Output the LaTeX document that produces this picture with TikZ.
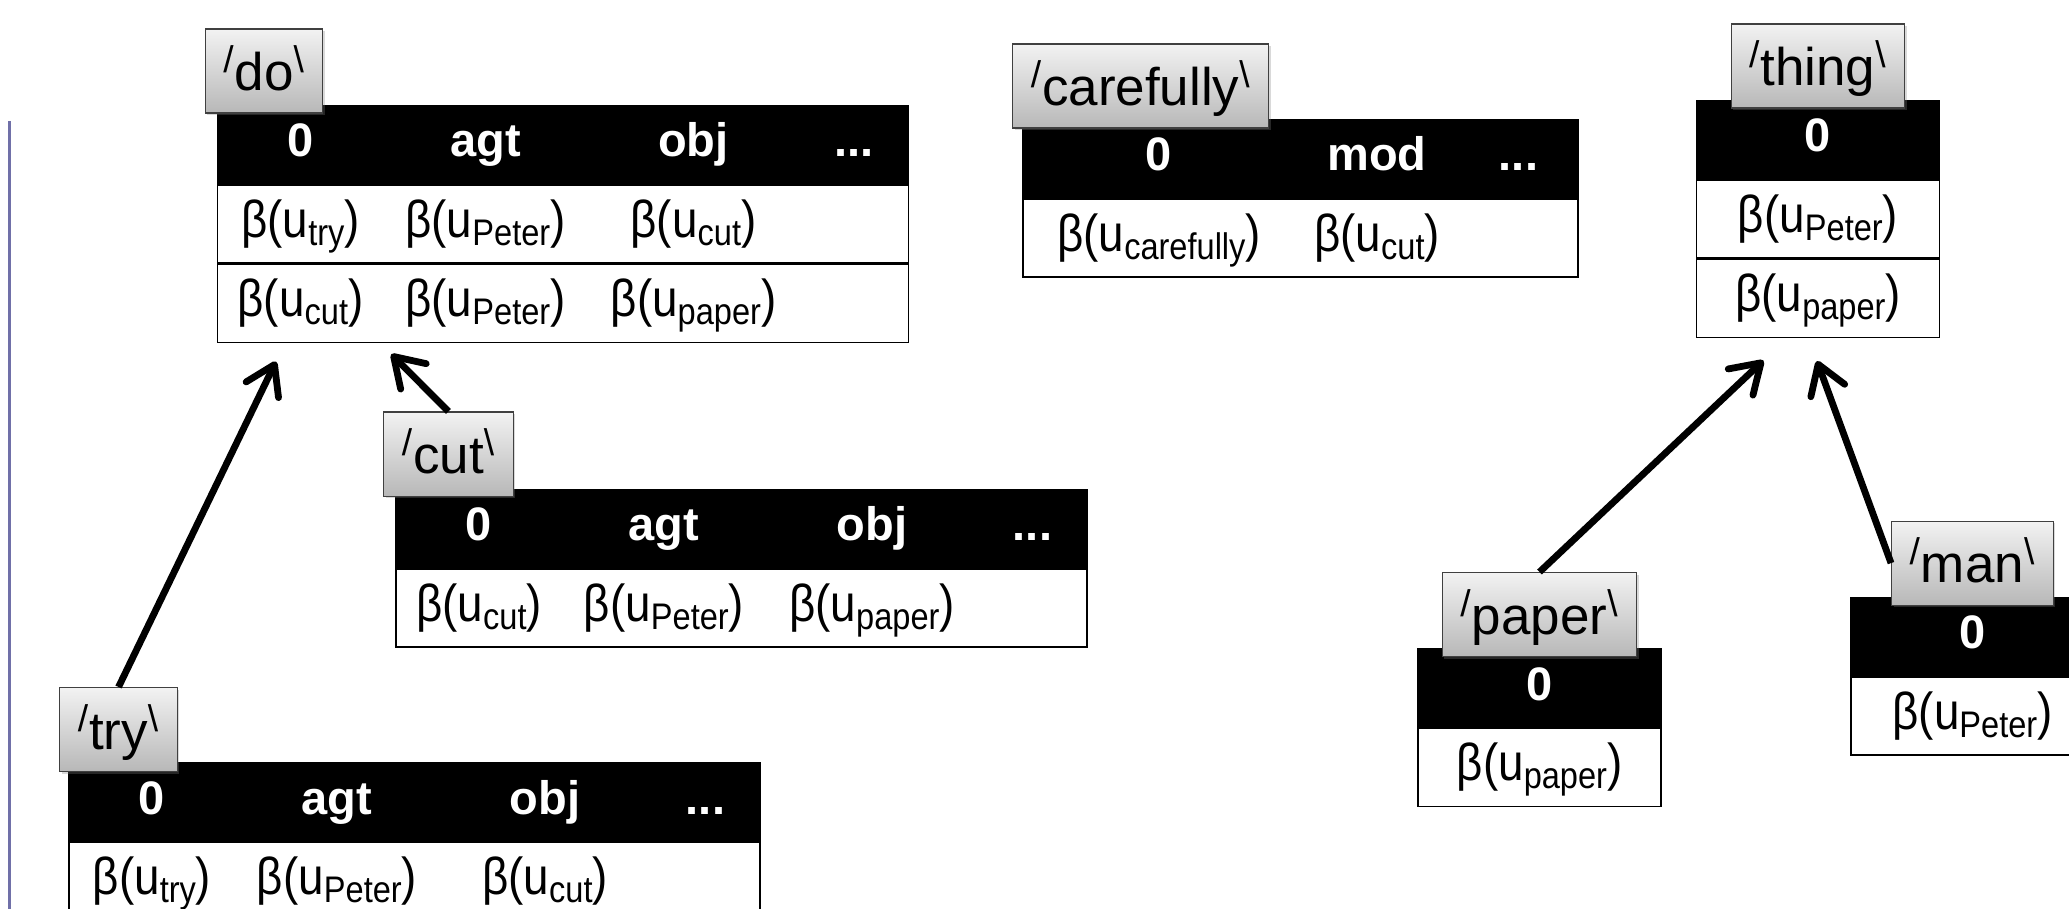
\documentclass[tikz,border=0pt]{standalone}
\usepackage{fontspec}
\setmainfont{Liberation Sans}
\newfontfamily\bodyfont[FakeStretch=0.88]{Liberation Sans}
\usetikzlibrary{positioning,arrows.meta,shadows}
\definecolor{rulecol}{RGB}{112,112,168}
\tikzstyle{arrowline} = [draw, line width=3.4pt, -{Straight Barb[length=14pt,width=18pt,round]}]
\tikzstyle{head} = [draw, fill=black, text=white, font=\fontsize{23.5}{26}\selectfont\bfseries, minimum height=39pt, inner sep=0pt, text height=17pt, text depth=5pt, line width=0.8pt]
\tikzstyle{cellrow} = [draw, fill=white, font=\bodyfont\fontsize{26}{28}\selectfont, minimum height=39pt, inner sep=0pt, text height=19.5pt, text depth=6.5pt, line width=0.8pt]
\tikzstyle{lexbox} = [draw=black!75, top color=black!5, bottom color=black!28, font=\fontsize{26.5}{30}\selectfont, minimum height=42pt, inner xsep=9pt, inner ysep=0pt, text height=19.5pt, text depth=0pt, line width=0.6pt, drop shadow={opacity=0.3,shadow xshift=1pt,shadow yshift=-1pt}]
\tikzstyle{widetab} = [minimum width=345.5pt]
\tikzstyle{modtab} = [minimum width=277.5pt]
\tikzstyle{narrowtab} = [minimum width=121.5pt]
\newcommand{\bval}[1]{β(u\raisebox{-4pt}{\fontsize{18.5}{20}\selectfont #1})}
\newcommand{\lex}[1]{\textsuperscript{/}#1\textsuperscript{\textbackslash}}
\newcommand{\widecols}[4]{\makebox[83pt]{#1}\makebox[102pt]{#2}\makebox[106pt]{#3}\makebox[54.5pt]{#4}}
\newcommand{\modcols}[3]{\makebox[136pt]{#1}\makebox[82pt]{#2}\makebox[59.5pt]{#3}}
\begin{document}
\begin{tikzpicture}[x=0.5pt, y=-0.5pt]
    \useasboundingbox (0,0) rectangle (2069,909);
    \clip (0,0) rectangle (2069,909);
    \draw[rulecol, line width=1.2pt] (9.5,121) -- (9.5,909);

    \node[head, widetab] (do-h) at (563,144.5) {\widecols{0}{agt}{obj}{...}};
    \node[cellrow, widetab, below=0pt of do-h] (do-r1) {\widecols{\bval{try}}{\bval{Peter}}{\bval{cut}}{}};
    \node[cellrow, widetab, below=0pt of do-r1] (do-r2) {\widecols{\bval{cut}}{\bval{Peter}}{\bval{paper}}{}};
    \node[lexbox, above right=-4.5pt and -6pt of do-h.north west] (do-lab) {\lex{do}};

    \node[head, modtab] (careful-h) at (1300.5,158.5) {\modcols{0}{mod}{...}};
    \node[cellrow, modtab, below=0pt of careful-h] (careful-r1) {\modcols{\bval{carefully}}{\bval{cut}}{}};
    \node[lexbox, above right=-5pt and -5pt of careful-h.north west] (careful-lab) {\lex{carefully}};

    \node[head, narrowtab] (thing-h) at (1818,139.5) {0};
    \node[cellrow, narrowtab, below=0pt of thing-h] (thing-r1) {\bval{Peter}};
    \node[cellrow, narrowtab, below=0pt of thing-r1] (thing-r2) {\bval{paper}};
    \node[lexbox, above=-4.5pt of thing-h] (thing-lab) {\lex{thing}};

    \node[head, widetab] (cut-h) at (741.5,528.5) {\widecols{0}{agt}{obj}{...}};
    \node[cellrow, widetab, below=0pt of cut-h] (cut-r1) {\widecols{\bval{cut}}{\bval{Peter}}{\bval{paper}}{}};
    \node[lexbox, above right=-4pt and -6pt of cut-h.north west] (cut-lab) {\lex{cut}};

    \node[head, widetab] (try-h) at (414.5,802) {\widecols{0}{agt}{obj}{...}};
    \node[cellrow, widetab, below=0pt of try-h] (try-r1) {\widecols{\bval{try}}{\bval{Peter}}{\bval{cut}}{}};
    \node[lexbox, above right=-5pt and -4.5pt of try-h.north west] (try-lab) {\lex{try}};

    \node[head, narrowtab] (paper-h) at (1539.5,688) {0};
    \node[cellrow, narrowtab, below=0pt of paper-h] (paper-r1) {\bval{paper}};
    \node[lexbox, above=-4.5pt of paper-h] (paper-lab) {\lex{paper}};

    \node[head, narrowtab] (man-h) at (1972.5,636.5) {0};
    \node[cellrow, narrowtab, below=0pt of man-h] (man-r1) {\bval{Peter}};
    \node[lexbox, above=-4.5pt of man-h] (man-lab) {\lex{man}};

    \draw[arrowline, shorten >=10pt] (try-lab.north) -- ([xshift=34pt]do-r2.south west);
    \draw[arrowline, shorten >=7.5pt] (cut-lab.north) -- ([xshift=82pt]do-r2.south west);
    \draw[arrowline, shorten >=16pt] (paper-lab.north) -- ([xshift=45.5pt]thing-r2.south west);
    \draw[arrowline, shorten >=12pt] (man-lab.west) -- ([xshift=56.5pt]thing-r2.south west);
\end{tikzpicture}
\end{document}
